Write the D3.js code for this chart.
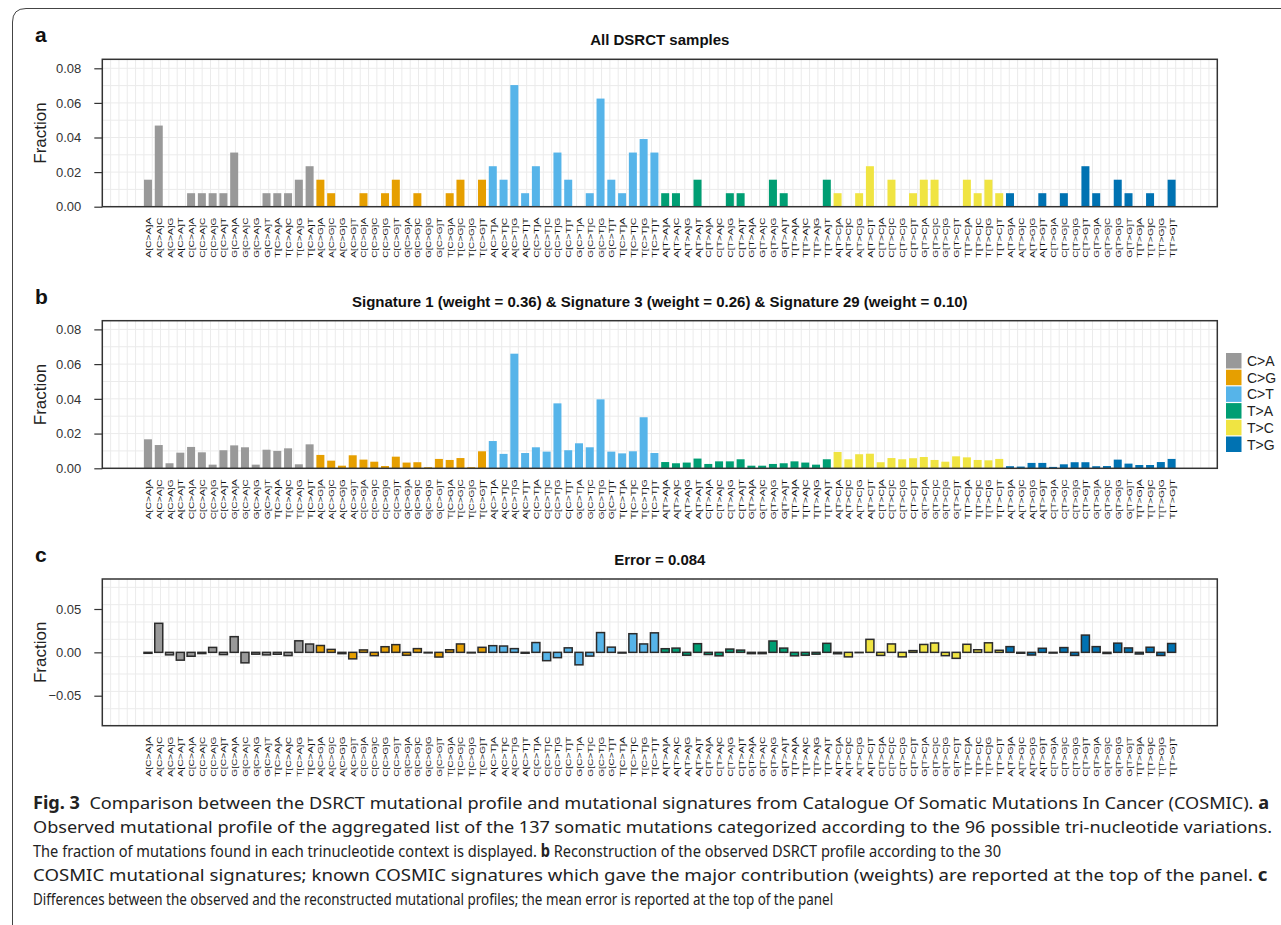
<!DOCTYPE html>
<html>
<head>
<meta charset="utf-8">
<script src="https://cdn.jsdelivr.net/npm/d3@7"></script>
<style>
  body { margin: 0; background: #fff; }
  svg { display: block; font-family: "Liberation Sans", Arial, sans-serif; }
  .axis text { font-size: 13px; fill: #333; }
  .axis line { stroke: #333; stroke-width: 1.2; }
  .axis .domain { display: none; }
</style>
</head>
<body>
<div class="chart"></div>
<script>
// mutation classes and flanking bases -> 96 trinucleotide contexts
const substitutions = ['C>A', 'C>G', 'C>T', 'T>A', 'T>C', 'T>G'];
const bases = ['A', 'C', 'G', 'T'];
const colors = ['#999999', '#E69F00', '#56B4E9', '#009E73', '#F0E442', '#0072B2'];

// panel a: observed fraction of mutations per context
const observed = [
  0.0156, 0.0469, 0, 0, 0.0078, 0.0078, 0.0078, 0.0078, 0.0313, 0, 0, 0.0078, 0.0078, 0.0078, 0.0156, 0.0234,
  0.0156, 0.0078, 0, 0, 0.0078, 0, 0.0078, 0.0156, 0, 0.0078, 0, 0, 0.0078, 0.0156, 0, 0.0156,
  0.0234, 0.0156, 0.0703, 0.0078, 0.0234, 0, 0.0313, 0.0156, 0, 0.0078, 0.0625, 0.0156, 0.0078, 0.0313, 0.0391, 0.0313,
  0.0078, 0.0078, 0, 0.0156, 0, 0, 0.0078, 0.0078, 0, 0, 0.0156, 0.0078, 0, 0, 0, 0.0156,
  0.0078, 0, 0.0078, 0.0234, 0, 0.0156, 0, 0.0078, 0.0156, 0.0156, 0, 0, 0.0156, 0.0078, 0.0156, 0.0078,
  0.0078, 0, 0, 0.0078, 0, 0.0078, 0, 0.0234, 0.0078, 0, 0.0156, 0.0078, 0, 0.0078, 0, 0.0156
];

// panel b: reconstruction from COSMIC signatures
const reconstructed = [
  0.0167, 0.0134, 0.0029, 0.0090, 0.0123, 0.0092, 0.0021, 0.0104, 0.0132, 0.0121, 0.0021, 0.0107, 0.0100, 0.0115, 0.0023, 0.0138,
  0.0077, 0.0044, 0.0015, 0.0075, 0.0050, 0.0038, 0.0013, 0.0067, 0.0033, 0.0035, 0.0006, 0.0054, 0.0048, 0.0059, 0.0006, 0.0098,
  0.0157, 0.0083, 0.0660, 0.0088, 0.0121, 0.0096, 0.0374, 0.0104, 0.0144, 0.0121, 0.0397, 0.0096, 0.0086, 0.0098, 0.0294, 0.0088,
  0.0036, 0.0029, 0.0033, 0.0056, 0.0025, 0.0040, 0.0040, 0.0052, 0.0015, 0.0015, 0.0025, 0.0029, 0.0040, 0.0033, 0.0021, 0.0052,
  0.0094, 0.0052, 0.0081, 0.0084, 0.0035, 0.0059, 0.0052, 0.0058, 0.0065, 0.0048, 0.0038, 0.0069, 0.0063, 0.0048, 0.0046, 0.0054,
  0.0012, 0.0010, 0.0031, 0.0031, 0.0008, 0.0023, 0.0035, 0.0035, 0.0012, 0.0013, 0.0050, 0.0027, 0.0019, 0.0019, 0.0036, 0.0054
];

// panel c: observed minus reconstructed
const difference = [
  -0.0011, 0.0335, -0.0029, -0.0090, -0.0045, -0.0014, 0.0057, -0.0026, 0.0181, -0.0121, -0.0021, -0.0029, -0.0022, -0.0037, 0.0133, 0.0096,
  0.0079, 0.0034, -0.0015, -0.0075, 0.0028, -0.0038, 0.0065, 0.0089, -0.0033, 0.0043, -0.0006, -0.0054, 0.0030, 0.0097, -0.0006, 0.0058,
  0.0077, 0.0073, 0.0043, -0.0010, 0.0113, -0.0096, -0.0061, 0.0052, -0.0144, -0.0043, 0.0228, 0.0060, -0.0008, 0.0215, 0.0097, 0.0225,
  0.0042, 0.0049, -0.0033, 0.0100, -0.0025, -0.0040, 0.0038, 0.0026, -0.0015, -0.0015, 0.0131, 0.0049, -0.0040, -0.0033, -0.0021, 0.0104,
  -0.0016, -0.0052, -0.0003, 0.0150, -0.0035, 0.0097, -0.0052, 0.0020, 0.0091, 0.0108, -0.0038, -0.0069, 0.0093, 0.0030, 0.0110, 0.0024,
  0.0066, -0.0010, -0.0031, 0.0047, -0.0008, 0.0055, -0.0035, 0.0199, 0.0066, -0.0013, 0.0106, 0.0051, -0.0019, 0.0059, -0.0036, 0.0102
];

const ticksAB = [0, 0.02, 0.04, 0.06, 0.08];
const ticksC = [-0.05, 0, 0.05];

const titles = [
  'All DSRCT samples',
  'Signature 1 (weight = 0.36) & Signature 3 (weight = 0.26) & Signature 29 (weight = 0.10)',
  'Error = 0.084'
];

const captionLines = [
  [['Fig. 3', true], ['  Comparison between the DSRCT mutational profile and mutational signatures from Catalogue Of Somatic Mutations In Cancer (COSMIC). ', false], ['a', true]],
  [['Observed mutational profile of the aggregated list of the 137 somatic mutations categorized according to the 96 possible tri-nucleotide variations.', false]],
  [['The fraction of mutations found in each trinucleotide context is displayed. ', false], ['b', true], [' Reconstruction of the observed DSRCT profile according to the 30', false]],
  [['COSMIC mutational signatures; known COSMIC signatures which gave the major contribution (weights) are reported at the top of the panel. ', false], ['c', true]],
  [['Differences between the observed and the reconstructed mutational profiles; the mean error is reported at the top of the panel', false]]
];
const captionWidths = [1237, 1240, 969, 1235, 801];

// build the 96 context records
const contexts = [];
substitutions.forEach((sub, si) => {
  bases.forEach(b5 => {
    bases.forEach(b3 => {
      contexts.push({ label: `${b5}[${sub}]${b3}`, sub: sub, color: colors[si] });
    });
  });
});

const W = 1281, H = 925;
const left = 102.3, right = 1217.3;

const svg = d3.select('.chart').append('svg')
  .attr('width', W).attr('height', H);

// outer frame of the figure
svg.append('path')
  .attr('d', `M12.5,${H + 5} L12.5,22 Q12.5,8.5 26,8.5 L${W + 5},8.5`)
  .attr('fill', 'none').attr('stroke', '#444').attr('stroke-width', 1);

const xScale = d3.scalePoint()
  .domain(contexts.map(d => d.label))
  .range([left, right])
  .padding(4.24);
const barW = 8;

// background grid is a fixed lattice, not aligned with the bars
const gridX = d3.scaleLinear().domain([0, 134]).range([left, right]);

function drawPanel(opt) {
  const y = d3.scaleLinear().domain(opt.domain).range([opt.bottom, opt.top]);
  const g = svg.append('g');

  g.append('rect')
    .attr('x', left).attr('y', opt.top)
    .attr('width', right - left).attr('height', opt.bottom - opt.top)
    .attr('fill', '#fff');

  g.selectAll('.vgrid')
    .data(d3.range(1, 134))
    .enter().append('line')
    .attr('x1', d => gridX(d)).attr('x2', d => gridX(d))
    .attr('y1', opt.top).attr('y2', opt.bottom)
    .attr('stroke', '#ebebeb').attr('stroke-width', 1);

  g.selectAll('.hgrid')
    .data(opt.grid)
    .enter().append('line')
    .attr('x1', left).attr('x2', right)
    .attr('y1', d => y(d)).attr('y2', d => y(d))
    .attr('stroke', '#ebebeb').attr('stroke-width', 1);

  // bars
  g.selectAll('.bar')
    .data(contexts.map((c, i) => ({ ...c, value: opt.values[i] })))
    .enter().append('rect')
    .attr('x', d => xScale(d.label) - barW / 2)
    .attr('width', barW)
    .attr('y', d => y(Math.max(0, d.value)))
    .attr('height', d => {
      const h = Math.abs(y(d.value) - y(0));
      return opt.outline ? Math.max(h, 0.3) : h;
    })
    .attr('fill', d => d.color)
    .attr('stroke', opt.outline ? '#2b2b2b' : 'none')
    .attr('stroke-width', opt.outline ? 1.5 : 0);

  // panel border
  g.append('rect')
    .attr('x', left).attr('y', opt.top)
    .attr('width', right - left).attr('height', opt.bottom - opt.top)
    .attr('fill', 'none').attr('stroke', '#333').attr('stroke-width', 1.5);

  // y axis
  const yAxis = d3.axisLeft(y)
    .tickValues(opt.ticks)
    .tickFormat(d3.format('.2f'))
    .tickSize(8)
    .tickPadding(13);
  g.append('g').attr('class', 'axis')
    .attr('transform', `translate(${left},0)`)
    .call(yAxis);

  g.append('text')
    .attr('transform', `translate(46,${(opt.top + opt.bottom) / 2}) rotate(-90)`)
    .attr('text-anchor', 'middle')
    .style('font-size', '17px')
    .style('fill', '#222')
    .text('Fraction');

  // x labels, rotated
  g.selectAll('.xlab')
    .data(contexts)
    .enter().append('text')
    .attr('transform', d => `translate(${xScale(d.label) + 3},${opt.bottom + 11}) rotate(-90)`)
    .attr('text-anchor', 'end')
    .attr('textLength', 40)
    .attr('lengthAdjust', 'spacingAndGlyphs')
    .style('font-size', '8px')
    .style('fill', '#111')
    .text(d => d.label);

  // title and panel letter
  g.append('text')
    .attr('x', (left + right) / 2).attr('y', opt.top - 14)
    .attr('text-anchor', 'middle')
    .style('font-size', '15px').style('font-weight', 'bold')
    .style('fill', '#111')
    .text(opt.title);

  g.append('text')
    .attr('x', 35).attr('y', opt.top - 17)
    .style('font-size', '21px').style('font-weight', 'bold')
    .style('fill', '#111')
    .text(opt.letter);
}

drawPanel({ values: observed, domain: [0, 0.0852], top: 59.3, bottom: 206.7,
  ticks: ticksAB, grid: d3.range(1, 9).map(k => k * 0.01), title: titles[0], letter: 'a', outline: false });

drawPanel({ values: reconstructed, domain: [0, 0.085], top: 320.7, bottom: 468.3,
  ticks: ticksAB, grid: d3.range(1, 9).map(k => k * 0.01), title: titles[1], letter: 'b', outline: false });

drawPanel({ values: difference, domain: [-0.0846, 0.0846], top: 579, bottom: 725.7,
  ticks: ticksC, grid: d3.range(0, 8).map(k => -0.065 + k * 0.02), title: titles[2], letter: 'c', outline: true });

// legend next to panel b
const legend = svg.append('g').attr('transform', 'translate(1226,353)');
legend.selectAll('rect')
  .data(substitutions)
  .enter().append('rect')
  .attr('x', 0).attr('y', (d, i) => i * 16.7)
  .attr('width', 15.5).attr('height', 15.5)
  .attr('fill', (d, i) => colors[i]);
legend.selectAll('text')
  .data(substitutions)
  .enter().append('text')
  .attr('x', 21).attr('y', (d, i) => i * 16.7 + 13)
  .style('font-size', '14px')
  .style('fill', '#222')
  .text(d => d);

// caption: condensed look, each line squeezed to its width in the figure
const caption = svg.append('g')
  .style('font-family', '"Noto Sans", "Open Sans", sans-serif')
  .style('font-size', '17px')
  .style('fill', '#222');

captionLines.forEach((parts, li) => {
  const t = caption.append('text')
    .attr('xml:space', 'preserve');
  parts.forEach(p => {
    t.append('tspan')
      .style('font-weight', p[1] ? 'bold' : 'normal')
      .text(p[0]);
  });
  const natural = t.node().getComputedTextLength();
  t.attr('transform', `translate(33,${809 + li * 24}) scale(${captionWidths[li] / natural},1)`);
});
</script>
</body>
</html>
